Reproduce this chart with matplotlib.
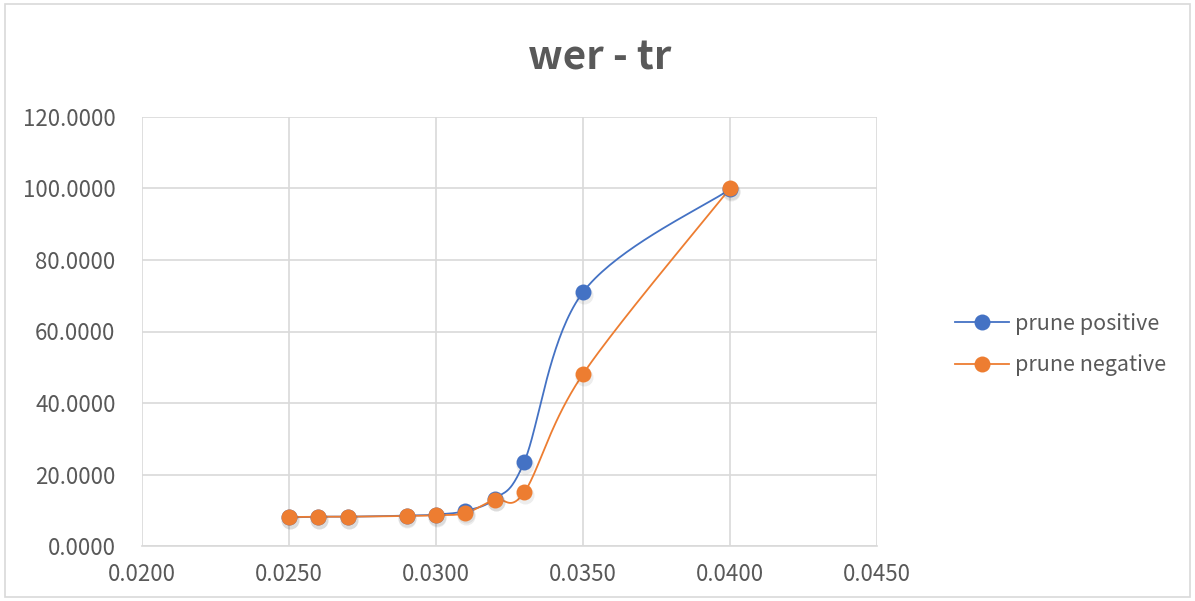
import numpy as np
import matplotlib
matplotlib.use("Agg")
import matplotlib.pyplot as plt

x_vals = [0.025, 0.026, 0.027, 0.029, 0.030, 0.031, 0.032, 0.033, 0.035, 0.040]
prune_positive = [8.0, 8.2, 8.2, 8.5, 8.8, 9.8, 13.2, 23.5, 71.0, 99.8]
prune_negative = [8.1, 8.2, 8.2, 8.4, 8.6, 9.2, 13.0, 15.0, 48.1, 100.0]

BLUE = "#4472C4"
ORANGE = "#ED7D31"
GRID = "#D9D9D9"
TEXT = "#595959"

plt.rcParams['font.family'] = ['Noto Sans CJK SC', 'DejaVu Sans']


def smooth(xs, ys, n=40):
    # excel-style smoothed line: cubic bezier with catmull-rom control points
    xs = np.asarray(xs, float)
    ys = np.asarray(ys, float)
    px = np.concatenate([[xs[0]], xs, [xs[-1]]])
    py = np.concatenate([[ys[0]], ys, [ys[-1]]])
    out_x, out_y = [], []
    t = np.linspace(0, 1, n)
    for i in range(1, len(px) - 2):
        p0 = np.array([px[i], py[i]])
        p3 = np.array([px[i + 1], py[i + 1]])
        c1 = p0 + (np.array([px[i + 1], py[i + 1]]) - np.array([px[i - 1], py[i - 1]])) / 6
        c2 = p3 - (np.array([px[i + 2], py[i + 2]]) - np.array([px[i], py[i]])) / 6
        b = ((1 - t) ** 3)[:, None] * p0 + (3 * (1 - t) ** 2 * t)[:, None] * c1 \
            + (3 * (1 - t) * t ** 2)[:, None] * c2 + (t ** 3)[:, None] * p3
        out_x.extend(b[:, 0])
        out_y.extend(b[:, 1])
    return out_x, out_y


fig = plt.figure(figsize=(11.95, 6.01), dpi=100)
fig.patches.append(plt.Rectangle((0.004, 0.006), 0.992, 0.988, transform=fig.transFigure,
                                 fill=False, edgecolor=GRID, linewidth=1.2))
ax = fig.add_axes([142 / 1195, 55 / 601, 735 / 1195, 429 / 601])

for ys, col, lab in [(prune_positive, BLUE, "prune positive"), (prune_negative, ORANGE, "prune negative")]:
    sx, sy = smooth(x_vals, ys)
    ax.plot(sx, sy, color=col, linewidth=1.3, zorder=3)
    ax.plot(np.array(x_vals) + 0.00003, np.array(ys) - 0.8, 'o', color='#000000', alpha=0.07,
            markersize=13, markeredgewidth=0, zorder=3)
    ax.plot(x_vals, ys, 'o', color=col, markersize=11.5, markeredgewidth=0, zorder=4)
    ax.plot([], [], '-o', color=col, linewidth=1.3, markersize=11.5, markeredgewidth=0, label=lab)

ax.set_xlim(0.02, 0.045)
ax.set_ylim(0, 120)
ax.set_xticks(np.arange(0.02, 0.0451, 0.005))
ax.set_yticks(np.arange(0, 121, 20))
ax.xaxis.set_major_formatter(matplotlib.ticker.FormatStrFormatter('%.4f'))
ax.yaxis.set_major_formatter(matplotlib.ticker.FormatStrFormatter('%.4f'))
ax.grid(True, color=GRID, linewidth=1.2)
ax.set_axisbelow(True)
for s in ['top', 'right', 'left']:
    ax.spines[s].set_visible(False)
ax.spines['bottom'].set_color(GRID)
ax.spines['bottom'].set_linewidth(1.2)
ax.tick_params(length=0, labelsize=16, labelcolor=TEXT)
ax.tick_params(axis='y', pad=19)
ax.tick_params(axis='x', pad=12)

fig.text(0.502, 0.903, "wer - tr", ha='center', va='center', fontsize=29, fontweight='bold', color=TEXT)
leg = fig.legend(loc='center left', bbox_to_anchor=(0.783, 0.427), frameon=False, fontsize=15.5,
                 labelcolor=TEXT, handlelength=2.5, handletextpad=0.3, labelspacing=0.9)

fig.savefig("out.png", dpi=100)
